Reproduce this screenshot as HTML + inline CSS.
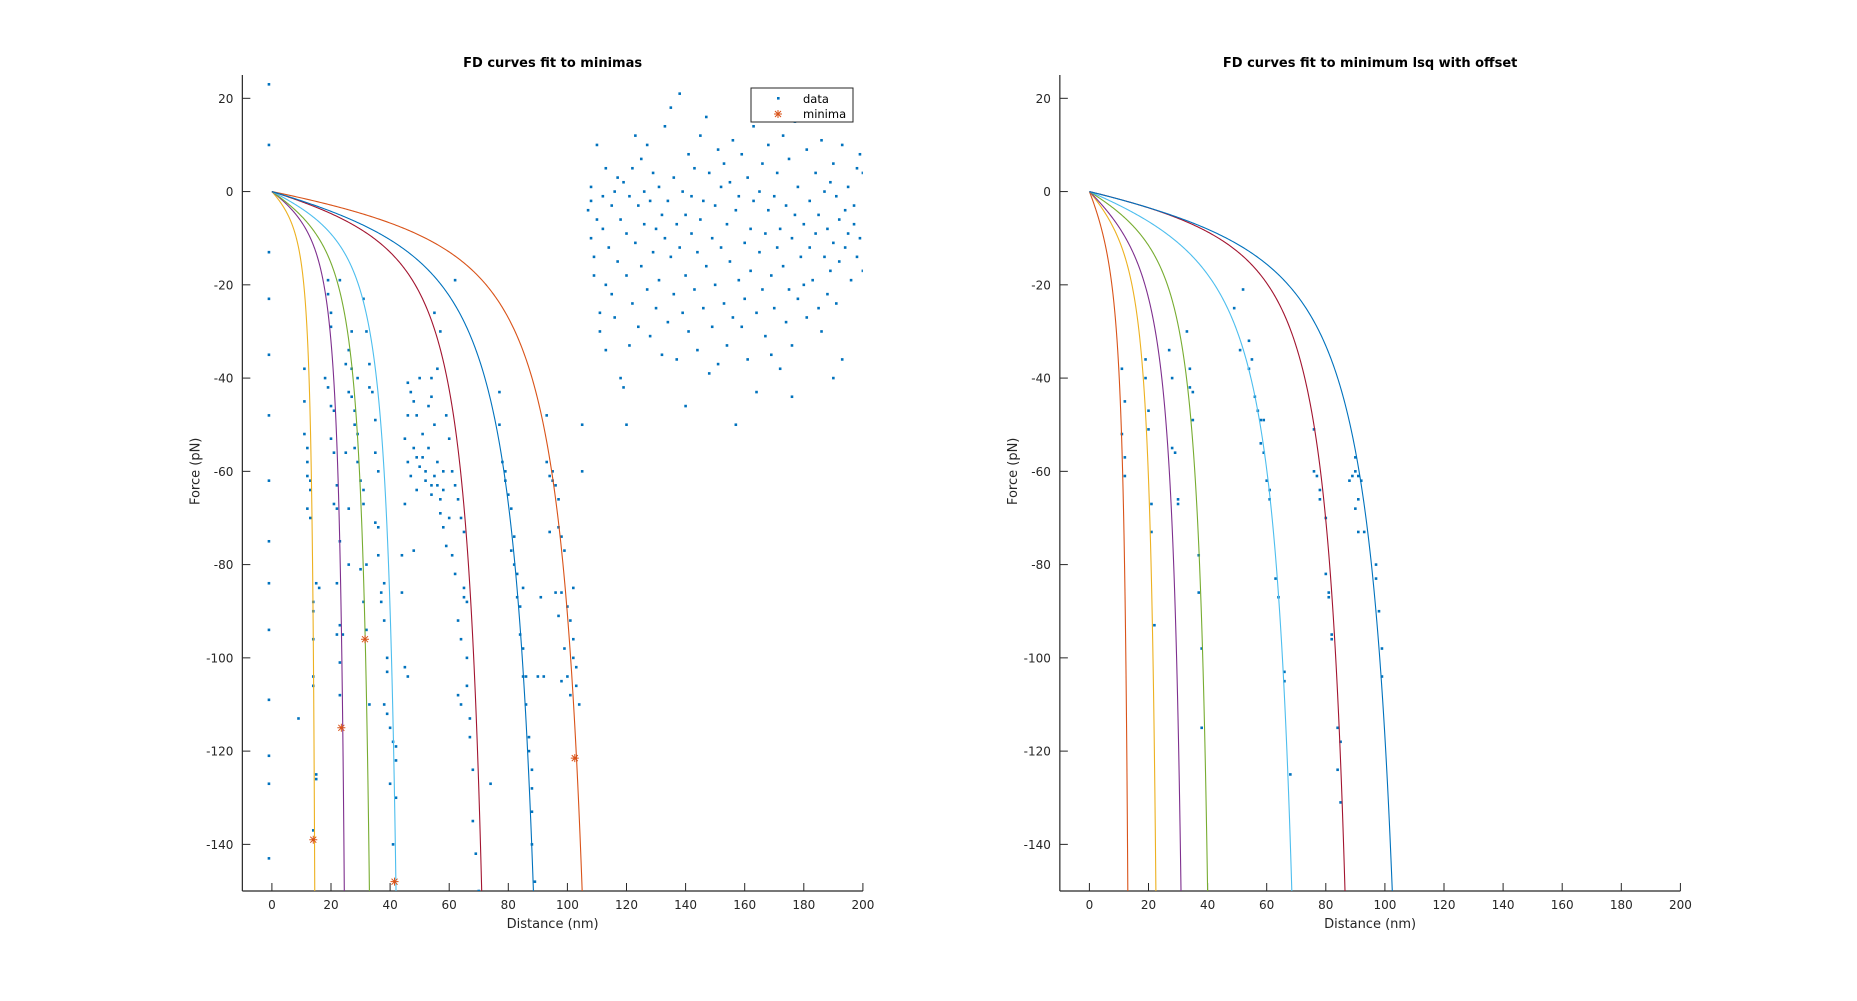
<!DOCTYPE html>
<html><head><meta charset="utf-8"><style>
html,body{margin:0;padding:0;background:#fff;}
svg{display:block;font-family:"DejaVu Sans","Liberation Sans",sans-serif;}
</style></head><body>
<svg id="fig" width="1857" height="1001" viewBox="0 0 1857 1001" xmlns="http://www.w3.org/2000/svg"></svg>
<script>
// ===== data =====
const xTicks = [0,20,40,60,80,100,120,140,160,180,200];
const yTicks = [20,0,-20,-40,-60,-80,-100,-120,-140];
const seriesColors = ['#D95319','#EDB120','#7E2F8E','#77AC30','#4DBEEE','#A2142F','#0072BD'];
// left panel fitted curves: distance where force reaches -150 pN, and where it reaches -20 pN
const leftEnd = [105,14.5,24.5,33,42,71,88.5];
const leftHalf = [72.5,10.8,17.6,22.4,29.3,48.5,57.3];
// right panel fitted curves
const rightEnd = [13,22.5,31,40,68.5,86.5,102.5];
const rightHalf = [7.6,14.4,18.8,26.4,42.4,60.4,67.3];
// minima markers (left)
const minX = [14,23.5,31.5,41.5,102.5];
const minY = [-139,-115,-96,-148,-121.5];
// left data points (x,y pairs)
const leftData = [
-1,23,-1,10,-1,-13,-1,-23,-1,-35,-1,-48,-1,-62,-1,-75,-1,-84,-1,-94,-1,-109,-1,-121,-1,-127,-1,-143,
11,-38,11,-45,11,-52,12,-55,12,-58,12,-61,13,-62,13,-64,12,-68,13,-70,14,-88,14,-90,14,-96,15,-84,14,-104,14,-106,15,-125,15,-126,14,-137,14,-139,9,-113,16,-85,
19,-19,19,-22,20,-26,20,-29,18,-40,19,-42,20,-46,21,-47,20,-53,21,-56,22,-63,21,-67,22,-68,23,-75,22,-84,23,-93,22,-95,23,-101,23,-108,24,-95,26,-68,26,-80,25,-56,23,-19,
26,-34,27,-30,27,-38,27,-44,28,-50,28,-55,29,-52,29,-58,30,-62,31,-67,31,-64,29,-40,28,-47,30,-81,31,-88,32,-94,33,-110,25,-37,26,-43,
32,-30,33,-37,33,-42,34,-43,35,-49,35,-56,36,-60,35,-71,36,-72,36,-78,37,-86,37,-88,38,-84,38,-92,39,-100,39,-103,38,-110,39,-112,40,-115,41,-118,42,-119,42,-122,42,-130,40,-127,41,-140,31,-23,32,-80,
44,-86,45,-67,46,-58,45,-53,46,-41,47,-43,48,-45,49,-48,47,-61,48,-55,49,-57,50,-59,51,-52,51,-57,52,-60,52,-62,53,-55,53,-46,54,-63,54,-65,55,-61,56,-63,56,-58,57,-66,57,-69,58,-72,58,-60,59,-76,55,-50,54,-44,54,-40,56,-38,57,-30,55,-26,50,-40,59,-48,60,-53,62,-63,61,-78,62,-82,60,-70,58,-64,44,-78,48,-77,49,-64,46,-48,62,-19,45,-102,46,-104,
63,-92,64,-96,63,-108,64,-110,65,-85,65,-87,66,-88,66,-100,66,-106,67,-113,67,-117,68,-124,68,-135,69,-142,70,-150,63,-66,64,-70,65,-73,61,-60,74,-127,
77,-43,77,-50,78,-58,79,-60,79,-62,80,-65,81,-68,82,-74,81,-77,82,-80,83,-82,83,-87,84,-89,84,-95,85,-98,85,-104,86,-104,86,-110,87,-117,87,-120,88,-124,88,-128,88,-133,88,-140,89,-148,85,-85,90,-104,92,-104,91,-87,
93,-48,93,-58,94,-61,95,-62,96,-63,97,-66,97,-72,98,-74,99,-77,98,-86,100,-89,101,-92,102,-96,102,-100,103,-102,103,-106,104,-110,96,-86,97,-91,98,-105,101,-108,94,-73,95,-60,105,-50,105,-60,102,-85,99,-98,100,-104,
107,-4,108,-2,108,1,108,-10,109,-14,109,-18,110,10,110,-6,111,-26,111,-30,112,-1,112,-8,113,5,113,-20,113,-34,114,-12,115,-3,115,-22,116,0,116,-27,117,3,117,-15,118,-6,118,-40,119,2,119,-42,120,-9,120,-18,121,-1,121,-33,122,5,122,-24,123,-11,123,12,124,-3,124,-29,125,7,125,-16,126,-7,126,0,127,-21,127,10,128,-2,128,-31,129,-13,129,4,130,-8,130,-25,131,1,131,-19,132,-5,132,-35,133,14,133,-10,134,-2,134,-28,135,18,135,-14,136,3,136,-22,137,-7,137,-36,138,21,138,-12,139,0,139,-26,140,-5,140,-18,141,8,141,-30,142,-9,142,-1,143,-21,143,5,144,-34,144,-13,145,12,145,-6,146,-25,146,-2,147,16,147,-16,148,-39,148,4,149,-10,149,-29,150,-3,150,-20,151,9,151,-37,152,-12,152,1,153,-24,153,6,154,-7,154,-33,155,-15,155,2,156,-27,156,11,157,-4,157,-50,158,-19,158,-1,159,-29,159,8,160,-11,160,-23,161,3,161,-36,162,-8,162,-17,163,14,163,-2,164,-26,164,-43,165,0,165,-13,166,-21,166,6,167,-9,167,-31,168,10,168,-4,169,-18,169,-35,170,-1,170,-25,171,-12,171,4,172,-38,172,-8,173,-16,173,12,174,-3,174,-28,175,7,175,-21,176,-10,176,-33,177,-5,177,15,178,-23,178,1,179,-14,179,22,180,-7,180,-20,181,9,181,-27,182,-2,182,-12,183,18,183,-19,184,-9,184,4,185,-25,185,-5,186,-30,186,11,187,-14,187,0,188,-8,188,-22,189,2,189,-17,190,-11,190,6,191,-1,191,-24,192,-6,192,-15,193,10,193,-36,194,-4,194,-12,195,-9,195,1,196,-19,196,16,197,-7,197,-3,198,5,198,-14,199,-10,199,8,200,4,200,-17,
120,-50,140,-46,190,-40,176,-44
];
// right data points (x,y pairs)
const rightData = [
11,-38,12,-45,11,-52,12,-57,12,-61,
19,-36,19,-40,20,-47,20,-51,21,-67,21,-73,22,-93,
27,-34,28,-40,28,-55,29,-56,30,-66,30,-67,
33,-30,34,-38,34,-42,35,-43,35,-49,37,-78,37,-86,38,-98,38,-115,
52,-21,49,-25,51,-34,54,-32,55,-36,54,-38,56,-44,57,-47,58,-49,59,-49,58,-54,59,-56,60,-62,61,-66,61,-64,63,-83,64,-87,66,-103,66,-105,68,-125,
76,-51,76,-60,77,-61,78,-64,78,-66,80,-70,80,-82,81,-86,81,-87,82,-95,82,-96,84,-115,85,-118,84,-124,85,-131,
88,-62,89,-61,90,-60,91,-61,92,-62,91,-66,90,-68,91,-73,93,-73,97,-80,97,-83,98,-90,99,-98,99,-104,90,-57
];
// ===== drawing =====
const NS='http://www.w3.org/2000/svg';
const svg=document.getElementById('fig');
const TOP=75,BOT=891,XMIN=-10,XMAX=200,YMIN=-150,YMAX=25;
function mk(tag,attrs,parent){const e=document.createElementNS(NS,tag);for(const k in attrs)e.setAttribute(k,attrs[k]);(parent||svg).appendChild(e);return e;}
function g(r){return 1/(4*(1-r)*(1-r))-0.25+r;}
function solveFit(E,H){
  let lo=E*1.0001,hi=E*5;
  for(let i=0;i<80;i++){const m=(lo+hi)/2;const ratio=g(E/m)/g(H/m);if(ratio>7.5)lo=m;else hi=m;}
  const L=(lo+hi)/2;return {L:L,k:20/g(H/L)};
}
function panel(id,zero,title,ends,halfs,data,mins){
  const pxPerNm=591/200;
  const left=zero+XMIN*pxPerNm, right=zero+XMAX*pxPerNm;
  const sx=x=>zero+x*pxPerNm;
  const sy=y=>TOP+(YMAX-y)/(YMAX-YMIN)*(BOT-TOP);
  const gr=mk('g',{});
  
  
  const cp=mk('clipPath',{id:id+'clip'},gr);
  mk('rect',{x:left,y:TOP,width:right-left,height:BOT-TOP},cp);
  const ax=mk('line',{x1:left,y1:BOT,x2:right,y2:BOT,stroke:'#262626','stroke-width':1.2},gr);
  
  
  const ay=mk('line',{x1:left,y1:TOP,x2:left,y2:BOT,stroke:'#262626','stroke-width':1.2},gr);
  
  
  xTicks.forEach(t=>{
    const x=sx(t);
    mk('line',{x1:x,y1:BOT,x2:x,y2:BOT-8,stroke:'#262626','stroke-width':1},gr);
    const tx=mk('text',{x:x,y:BOT+18,'text-anchor':'middle','font-size':12,fill:'#262626'},gr);
    tx.textContent=t;
    
    
  });
  yTicks.forEach(t=>{
    const y=sy(t);
    mk('line',{x1:left,y1:y,x2:left+8,y2:y,stroke:'#262626','stroke-width':1},gr);
    const tx=mk('text',{x:left-9,y:y+4.5,'text-anchor':'end','font-size':12,fill:'#262626'},gr);
    tx.textContent=t;
    
    
  });
  const ti=mk('text',{x:(left+right)/2,y:67,'text-anchor':'middle','font-size':13,'font-weight':'bold',fill:'#000'},gr);
  ti.textContent=title;
  
  
  const xl=mk('text',{x:(left+right)/2,y:928,'text-anchor':'middle','font-size':13,fill:'#262626'},gr);
  xl.textContent='Distance (nm)';
  
  
  const yl=mk('text',{x:0,y:0,'text-anchor':'middle','font-size':13,fill:'#262626',transform:`translate(${left-43},${sy(-60)}) rotate(-90)`},gr);
  yl.textContent='Force (pN)';
  
  
  const plot=mk('g',{'clip-path':`url(#${id}clip)`},gr);
  for(let i=0;i<data.length;i+=2){
    const c=mk('rect',{x:sx(data[i])-1.3,y:sy(data[i+1])-1.3,width:2.6,height:2.6,fill:'#0072BD'},plot);
    
    
  }
  ends.forEach((E,j)=>{
    const f=solveFit(E,halfs[j]);
    let d='';
    const N=500;
    for(let n=0;n<=N;n++){
      const x=f.L*(1-Math.pow(1-n/N,2.5))*0.9995;
      const y=Math.max(-f.k*g(x/f.L),-170);
      d+=(n?'L':'M')+sx(x).toFixed(2)+','+sy(y).toFixed(2);
      if(y<=-170)break;
    }
    const p=mk('path',{d:d,fill:'none',stroke:seriesColors[j],'stroke-width':1.1},plot);
    
    
  });
  if(mins){
    mins[0].forEach((mx,i)=>{
      const cx=sx(mx),cy=sy(mins[1][i]);
      const s=mk('path',{d:`M${cx-4},${cy}H${cx+4}M${cx},${cy-4}V${cy+4}M${cx-3},${cy-3}L${cx+3},${cy+3}M${cx-3},${cy+3}L${cx+3},${cy-3}`,stroke:'#D95319','stroke-width':1,fill:'none'},plot);
      
      
    });
  }
}
panel('left',271.9,'FD curves fit to minimas',leftEnd,leftHalf,leftData,[minX,minY]);
panel('right',1089.4,'FD curves fit to minimum lsq with offset',rightEnd,rightHalf,rightData,null);

const lg=mk('g',{});


mk('rect',{x:751,y:88,width:102,height:34,fill:'#fff',stroke:'#262626','stroke-width':1},lg);
mk('rect',{x:777,y:97,width:2.6,height:2.6,fill:'#0072BD'},lg);
const t1=mk('text',{x:803,y:103,'font-size':11.5,fill:'#000'},lg);
t1.textContent='data';


const ax2=778,ay2=114;
mk('path',{d:`M${ax2-4},${ay2}H${ax2+4}M${ax2},${ay2-4}V${ay2+4}M${ax2-3},${ay2-3}L${ax2+3},${ay2+3}M${ax2-3},${ay2+3}L${ax2+3},${ay2-3}`,stroke:'#D95319','stroke-width':1},lg);
const t2=mk('text',{x:803,y:118,'font-size':11.5,fill:'#000'},lg);
t2.textContent='minima';


</script>
</body></html>
